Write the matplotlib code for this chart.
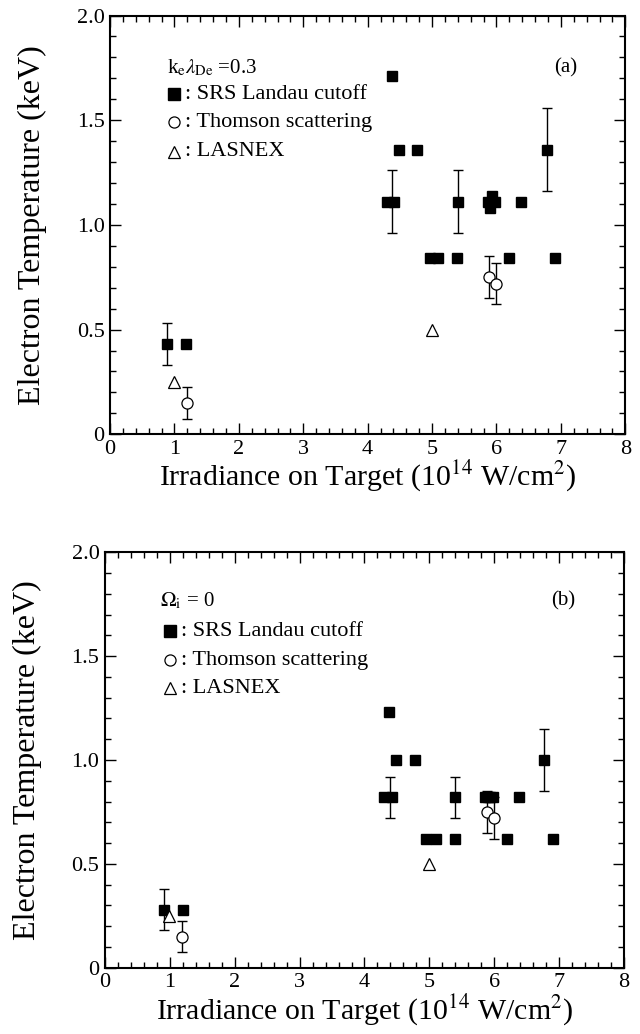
import numpy as np
import matplotlib
matplotlib.use('Agg')
import matplotlib.pyplot as plt
from matplotlib.ticker import MultipleLocator

plt.rcParams['font.family'] = ['Liberation Serif', 'DejaVu Serif']
plt.rcParams['mathtext.fontset'] = 'stix'

# panel (a): k_e lambda_De = 0.3
srs_x_a = [0.88, 1.18, 4.30, 4.41, 4.37, 4.49, 4.77, 4.97, 5.09, 5.39, 5.40,
           5.87, 5.90, 5.93, 5.97, 6.20, 6.38, 6.79, 6.91]
srs_y_a = [0.43, 0.43, 1.11, 1.11, 1.71, 1.36, 1.36, 0.84, 0.84, 0.84, 1.11,
           1.11, 1.08, 1.14, 1.11, 0.84, 1.11, 1.36, 0.84]
err_x_a = [0.88, 4.38, 5.40, 6.79]
err_y_a = [0.43, 1.11, 1.11, 1.36]
err_lo_a = [0.10, 0.15, 0.15, 0.20]
err_hi_a = [0.10, 0.15, 0.15, 0.20]

# panel (b): Omega_i = 0
srs_x_b = [0.91, 1.21, 4.30, 4.42, 4.38, 4.48, 4.78, 4.95, 5.10, 5.39, 5.40,
           5.86, 5.90, 5.94, 5.98, 6.19, 6.38, 6.77, 6.90]
srs_y_b = [0.28, 0.28, 0.82, 0.82, 1.23, 1.00, 1.00, 0.62, 0.62, 0.62, 0.82,
           0.82, 0.82, 0.82, 0.82, 0.62, 0.82, 1.00, 0.62]
err_x_b = [0.91, 4.39, 5.40, 6.77]
err_y_b = [0.28, 0.82, 0.82, 1.00]
err_lo_b = [0.10, 0.10, 0.10, 0.15]
err_hi_b = [0.10, 0.10, 0.10, 0.15]

# Thomson scattering (same in both panels)
th_x = [1.19, 5.89, 5.99]
th_y = [0.15, 0.75, 0.72]
th_err = [0.075, 0.10, 0.10]

# LASNEX
lx_x = [0.99, 5.00]
lx_y = [0.25, 0.50]

xlabel = r'Irradiance on Target (10$^{14}$ W/cm$^{2}$)'
ylabel = 'Electron Temperature (keV)'

fig = plt.figure(figsize=(6.4, 10.34), dpi=100)
ax_a = fig.add_axes([0.172, 0.580, 0.805, 0.405])
ax_b = fig.add_axes([0.164, 0.064, 0.811, 0.402])


def draw_panel(ax, sx, sy, ex, ey, elo, ehi, header, tag, leg_x, leg_y):
    # barre d'erori sub markere
    ax.errorbar(ex, ey, yerr=[elo, ehi], fmt='none', ecolor='k',
                elinewidth=1.0, capsize=3.5, capthick=1.0, zorder=2)
    ax.errorbar(th_x, th_y, yerr=th_err, fmt='none', ecolor='k',
                elinewidth=1.0, capsize=3.5, capthick=1.0, zorder=2)
    ax.plot(sx, sy, 's', color='k', ms=7.8, mec='k', zorder=3, ls='none')
    ax.plot(th_x, th_y, 'o', mfc='white', mec='k', ms=8, mew=0.9, zorder=4, ls='none')
    ax.plot(lx_x, lx_y, '^', mfc='white', mec='k', ms=8, mew=0.9, zorder=4, ls='none')

    ax.set_xlim(0, 8)
    ax.set_ylim(0, 2.0)
    ax.xaxis.set_major_locator(MultipleLocator(1))
    ax.xaxis.set_minor_locator(MultipleLocator(0.2))
    ax.yaxis.set_minor_locator(MultipleLocator(0.1))
    ax.set_yticks([0, 0.5, 1.0, 1.5, 2.0])
    ax.set_yticklabels(['0', '0.5', '1.0', '1.5', '2.0'])
    ax.tick_params(which='both', direction='in', top=True, right=True,
                   labelsize=16, width=1.0)
    ax.tick_params(which='major', length=8, pad=4)
    ax.tick_params(which='minor', length=4)
    for s in ax.spines.values():
        s.set_linewidth(1.5)
    ax.set_xlabel(xlabel, fontsize=21.5, labelpad=0)
    ax.set_ylabel(ylabel, fontsize=23, labelpad=21)

    # legenda manuala
    x0, xm, xt = leg_x
    ax.text(x0, leg_y[0], header, fontsize=15, va='center', ha='left')
    ax.text(7.07, leg_y[0], tag, fontsize=15, va='center', ha='center')
    ax.plot([xm], [leg_y[1]], 's', color='k', ms=8.5)
    ax.plot([xm], [leg_y[2]], 'o', mfc='white', mec='k', ms=8, mew=0.9)
    ax.plot([xm], [leg_y[3]], '^', mfc='white', mec='k', ms=8, mew=0.9)
    ax.text(xt, leg_y[1], ': SRS Landau cutoff', fontsize=16, va='center')
    ax.text(xt, leg_y[2], ': Thomson scattering', fontsize=16, va='center')
    ax.text(xt, leg_y[3], ': LASNEX', fontsize=16, va='center')


draw_panel(ax_a, srs_x_a, srs_y_a, err_x_a, err_y_a, err_lo_a, err_hi_a,
           r'k$_\mathrm{e}\lambda_\mathrm{De}$ =0.3', '(a)',
           [0.88, 0.99, 1.16], [1.75, 1.625, 1.49, 1.35])
draw_panel(ax_b, srs_x_b, srs_y_b, err_x_b, err_y_b, err_lo_b, err_hi_b,
           r'$\Omega_\mathrm{i}$ = 0', '(b)',
           [0.85, 1.01, 1.17], [1.765, 1.62, 1.48, 1.345])

fig.savefig('out.png', dpi=100)
